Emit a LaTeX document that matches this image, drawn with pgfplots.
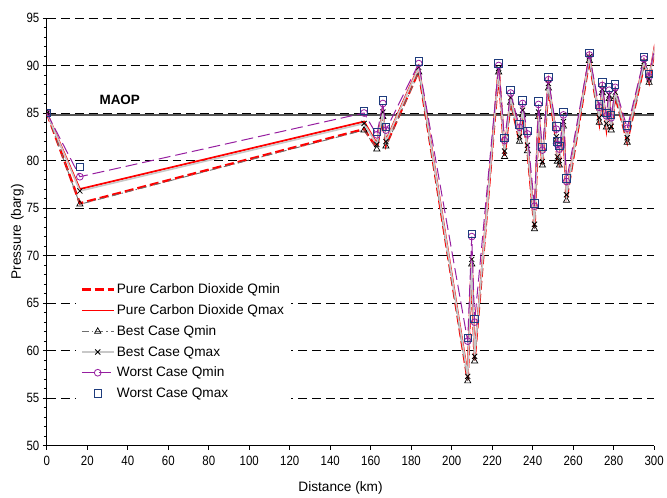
\documentclass[border=0pt]{standalone}
\usepackage{fontspec}
\setmainfont{Liberation Sans}
\newfontfamily\tickfont{Liberation Sans}[FakeStretch=0.85]
\usepackage{pgfplots}
\usepackage{pgfplotstable}
\pgfplotsset{compat=1.18}

\definecolor{wpurple}{RGB}{150,30,160}
\definecolor{wnavy}{RGB}{30,60,125}
\definecolor{bgreyd}{RGB}{110,110,110}
\definecolor{bgreyl}{RGB}{200,200,200}
\definecolor{maopgrey}{RGB}{85,85,85}

% distance (km) and pressure (barg) for each case
% wmax/wmin: worst case, pmax/pmin: pure CO2, bmax/bmin: best case
% the last row lies just past 300 km and is clipped at the axis edge
\pgfplotstableread{
x     wmax  wmin  pmax  bmax  pmin  bmin
0.0   85.0  85.0  85.0  85.0  85.0  85.0
16.3  79.3  78.3  77.0  76.8  75.5  75.4
156.7 85.2  85.0  84.1  83.9  83.3  83.2
163.0 83.0  82.7  81.8  81.7  81.3  81.2
166.0 86.3  86.0  85.2  85.1  84.7  84.6
167.5 83.5  83.2  82.1  82.0  81.6  81.5
183.7 90.4  90.2  89.9  89.8  89.4  89.3
207.9 61.3  61.0  57.5  57.3  56.9  56.8
209.9 72.3  72.0  69.7  69.6  69.2  69.1
211.3 63.3  63.0  59.5  59.4  59.0  58.9
223.2 90.2  90.0  89.8  89.7  89.4  89.3
226.1 82.4  82.1  81.1  81.0  80.5  80.4
229.1 87.4  87.1  86.7  86.6  86.2  86.1
233.5 83.8  83.5  82.6  82.5  82.1  82.0
235.0 86.3  86.0  85.4  85.3  84.9  84.8
237.4 83.1  82.8  81.7  81.6  81.1  81.0
240.9 75.5  75.2  73.4  73.3  72.9  72.8
242.9 86.2  85.9  85.2  85.1  84.7  84.6
244.8 81.4  81.1  80.0  79.9  79.6  79.5
247.8 88.8  88.5  88.2  88.1  87.7  87.6
251.7 83.6  83.3  82.6  82.5  82.1  82.0
252.2 82.0  81.7  80.5  80.4  80.0  79.9
253.2 81.5  81.2  80.1  80.0  79.6  79.5
255.2 85.1  84.8  84.2  84.1  83.7  83.6
256.7 78.1  77.8  76.5  76.4  75.9  75.8
268.0 91.3  91.1  91.0  90.9  90.6  90.5
272.9 85.9  85.6  84.6  84.5  84.1  84.0
274.4 88.2  87.9  87.6  87.5  87.2  87.1
276.4 85.0  84.7  84.0  83.9  83.6  83.5
277.8 87.7  87.4  87.0  86.9  86.6  86.5
278.8 84.8  84.5  83.7  83.6  83.3  83.2
280.8 88.0  87.7  87.3  87.2  86.8  86.7
286.7 83.7  83.4  82.5  82.4  82.0  81.9
295.0 90.9  90.7  90.5  90.4  90.0  89.9
297.5 89.1  88.8  88.7  88.6  88.3  88.2
302.5 94.5  94.4  94.7  94.6  94.5  94.6
}\pressure

\begin{document}
\begin{tikzpicture}
\begin{axis}[
  scale only axis,
  width=609pt, height=429pt,
  xmin=0, xmax=300, ymin=50, ymax=95,
  xtick={0,20,...,300}, ytick={50,55,...,95},
  minor y tick num=4,
  axis x line*=bottom, axis y line*=left,
  axis line style={line width=1.1pt},
  tick align=outside,
  tick style={black, line width=0.8pt},
  major tick length=4pt, minor tick length=3pt,
  ymajorgrids,
  major grid style={black, line width=0.9pt, dash pattern=on 9pt off 5pt},
  xlabel={Distance (km)}, ylabel={Pressure (barg)},
  label style={font=\fontsize{13.7}{16}\selectfont},
  xlabel style={xshift=-10pt, yshift=-9pt},
  ylabel style={yshift=-4pt},
  tick label style={font=\tickfont\fontsize{13.5}{15}\selectfont},
  xticklabel style={yshift=-3pt},
  /pgf/number format/assume math mode=true,
  clip marker paths=true,
  legend cell align=left,
  legend style={at={(0.047,0.395)}, anchor=north west, draw=none, fill=white,
    font=\fontsize{13.7}{16}\selectfont, row sep=5.5pt, inner sep=5pt},
  legend image code/.code={\draw[mark repeat=2,mark phase=2,#1]
    plot coordinates {(0pt,0pt) (16pt,0pt) (32pt,0pt)};},
]
% maximum allowable operating pressure
\addplot[forget plot, color=maopgrey, line width=2pt] coordinates {(0,84.75) (300,84.75)};

\addplot[red, line width=2.4pt, dash pattern=on 9pt off 4pt, no marks]
  table[x=x, y=pmin] {\pressure};
\addlegendentry{Pure Carbon Dioxide Qmin}
\addplot[red, line width=1.8pt, no marks]
  table[x=x, y=pmax] {\pressure};
\addlegendentry{Pure Carbon Dioxide Qmax}
\addplot[bgreyd, line width=0.9pt, dash pattern=on 7pt off 3pt on 1.5pt off 3pt,
  mark=triangle, mark size=3.6pt, mark options={solid, black, line width=0.7pt}]
  table[x=x, y=bmin] {\pressure};
\addlegendentry{Best Case Qmin}
\addplot[bgreyl, line width=1.6pt,
  mark=x, mark size=3.6pt, mark options={solid, black, line width=0.8pt}]
  table[x=x, y=bmax] {\pressure};
\addlegendentry{Best Case Qmax}
\addplot[wpurple, line width=1pt, dash pattern=on 12pt off 5pt,
  mark=o, mark size=3.4pt, mark options={solid, line width=0.8pt}]
  table[x=x, y=wmin] {\pressure};
\addlegendentry{Worst Case Qmin}
\addplot[wnavy, only marks, mark=square, mark size=3.7pt,
  mark options={solid, line width=1pt}]
  table[x=x, y=wmax] {\pressure};
\addlegendentry{Worst Case Qmax}

\node[font=\bfseries\fontsize{13.5}{16}\selectfont] at (axis cs:36,86.4) {MAOP};
\end{axis}
\path (current axis.south west) ++(-47pt,-45pt) rectangle ++(667pt,492pt);
\end{tikzpicture}
\end{document}
